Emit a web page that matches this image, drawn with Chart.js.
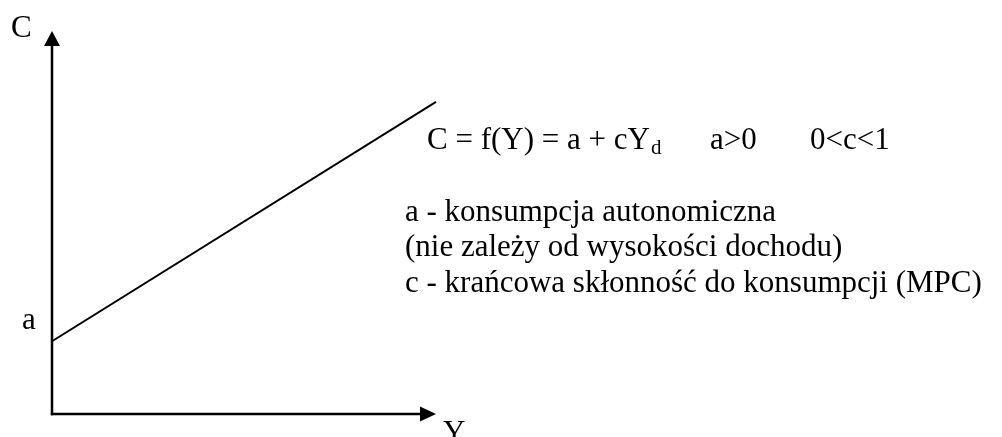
<!DOCTYPE html>
<html>
<head>
<meta charset="utf-8">
<script src="https://cdn.jsdelivr.net/npm/chart.js@4"></script>
<style>
html,body{margin:0;padding:0;background:#fff;}
#wrap{width:1002px;height:437px;}
</style>
</head>
<body>
<div id="wrap"><canvas id="c" width="1002" height="437"></canvas></div>
<script>
// Data (arbitrary units of the schematic diagram)
const incomeY = [0, 10];
const consumptionC = [1.9, 8.15];
const autonomous = 1.9;
const axisMax = {x: 10, y: 10};
const axisLabels = {y: 'C', x: 'Y', a: 'a'};
const formulaParts = ['C = f(Y) = a + cY', 'd', 'a>0', '0<c<1'];
const notes = [
  'a - konsumpcja autonomiczna',
  '(nie zależy od wysokości dochodu)',
  'c - krańcowa skłonność do konsumpcji (MPC)'
];

const FONT = '"Liberation Serif", "Times New Roman", serif';

const overlay = {
  id: 'overlay',
  afterDatasetsDraw(chart) {
    const ctx = chart.ctx;
    const xs = chart.scales.x, ys = chart.scales.y;
    const x0 = xs.getPixelForValue(0), y0 = ys.getPixelForValue(0);
    const xm = xs.getPixelForValue(axisMax.x), ym = ys.getPixelForValue(axisMax.y);
    ctx.save();
    ctx.strokeStyle = '#000';
    ctx.fillStyle = '#000';
    ctx.lineWidth = 2.5;
    ctx.lineCap = 'butt';
    // vertical axis
    ctx.beginPath();
    ctx.moveTo(x0, y0 + 1.2);
    ctx.lineTo(x0, ym + 12);
    ctx.stroke();
    // horizontal axis
    ctx.beginPath();
    ctx.moveTo(x0 - 1.2, y0);
    ctx.lineTo(xm - 12, y0);
    ctx.stroke();
    // arrowheads
    ctx.beginPath();
    ctx.moveTo(x0, ym);
    ctx.lineTo(x0 - 8, ym + 15);
    ctx.lineTo(x0 + 8, ym + 15);
    ctx.closePath();
    ctx.fill();
    ctx.beginPath();
    ctx.moveTo(xm, y0);
    ctx.lineTo(xm - 16, y0 - 7.5);
    ctx.lineTo(xm - 16, y0 + 7.5);
    ctx.closePath();
    ctx.fill();

    // labels
    ctx.font = '31px ' + FONT;
    ctx.textBaseline = 'alphabetic';
    ctx.textAlign = 'left';
    ctx.fillText(axisLabels.y, x0 - 41, ym + 6);
    ctx.fillText(axisLabels.a, x0 - 30, ys.getPixelForValue(autonomous) - 12);
    ctx.fillText(axisLabels.x, xm + 7, y0 + 28);

    // formula
    let fx = 427, fy = 149;
    ctx.fillText(formulaParts[0], fx, fy);
    let w = ctx.measureText(formulaParts[0]).width;
    ctx.font = '21px ' + FONT;
    ctx.fillText(formulaParts[1], fx + w + 1, fy + 5);
    ctx.font = '31px ' + FONT;
    ctx.fillText(formulaParts[2], 710, fy);
    ctx.fillText(formulaParts[3], 810, fy);

    // notes
    const base = [221, 256, 292];
    notes.forEach((t, i) => ctx.fillText(t, 405, base[i]));
    ctx.restore();
  }
};

new Chart(document.getElementById('c'), {
  type: 'scatter',
  data: {
    datasets: [{
      data: incomeY.map((x, i) => ({x: x, y: consumptionC[i]})),
      showLine: true,
      borderColor: '#000',
      borderWidth: 2,
      pointRadius: 0,
      tension: 0,
      fill: false,
      clip: false
    }]
  },
  options: {
    responsive: false,
    animation: false,
    events: [],
    layout: {padding: {left: 52, right: 566, top: 31, bottom: 23}},
    plugins: {legend: {display: false}, tooltip: {enabled: false}, title: {display: false}},
    scales: {
      x: {type: 'linear', min: 0, max: axisMax.x, display: false},
      y: {type: 'linear', min: 0, max: axisMax.y, display: false}
    }
  },
  plugins: [overlay]
});
</script>
</body>
</html>
